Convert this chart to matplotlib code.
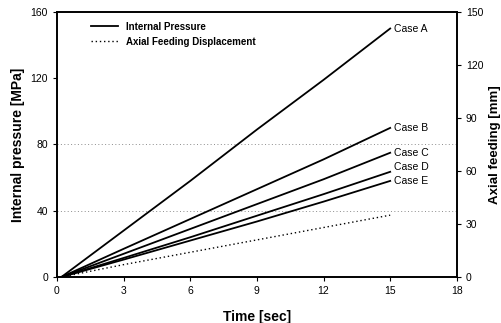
import matplotlib
matplotlib.use('Agg')
import matplotlib.pyplot as plt
from matplotlib.lines import Line2D

plt.rcParams['font.family'] = ['Liberation Sans', 'DejaVu Sans']

# ==== DATA ====
time = [0.2, 3, 6, 9, 12, 15]
case_a = [0, 28, 58, 89, 119, 150]
case_b = [0, 17, 35, 53, 71, 90]
case_c = [0, 14, 29, 44, 59, 75]
case_d = [0, 11.5, 24, 37, 50, 63.5]
case_e = [0, 10.5, 22, 33.5, 45.5, 58]
feed_time = [0.2, 3, 6, 9, 12, 15]
feed = [0, 7, 14, 21, 28, 35]

cases = {'Case A': case_a, 'Case B': case_b, 'Case C': case_c,
         'Case D': case_d, 'Case E': case_e}
label_shift = {'Case A': 0, 'Case B': 0, 'Case C': 0, 'Case D': 3, 'Case E': 0}

# ==== PLOT ====
fig = plt.figure(figsize=(5.02, 3.23), dpi=100)
ax1 = fig.add_axes([0.1135, 0.1424, 0.7965, 0.8206])
ax2 = ax1.twinx()

for y in [40, 80]:
  ax1.axhline(y, color='0.55', linestyle=(0, (1, 2.5)), linewidth=0.7)

for name, vals in cases.items():
  ax1.plot(time, vals, color='k', linewidth=1.3)
  ax1.text(15.15, vals[-1] + label_shift[name], name, fontsize=7.5, va='center', ha='left')

ax2.plot(feed_time, feed, color='k', linestyle=(0, (1, 2)), linewidth=1.0)

ax1.set_xlim(0, 18)
ax1.set_ylim(0, 160)
ax2.set_ylim(0, 150)
ax1.set_xticks(range(0, 19, 3))
ax1.set_yticks(range(0, 161, 40))
ax2.set_yticks(range(0, 151, 30))

ax1.set_xlabel('Time [sec]', fontsize=10, fontweight='bold', labelpad=10)
ax1.set_ylabel('Internal pressure [MPa]', fontsize=10, fontweight='bold', labelpad=4)
ax2.set_ylabel('Axial feeding [mm]', fontsize=9.5, fontweight='bold', labelpad=4)

for ax in (ax1, ax2):
  ax.tick_params(labelsize=7.5, direction='out', length=3, width=0.8)
  for s in ax.spines.values():
    s.set_linewidth(1.2)

legend_elements = [Line2D([0], [0], linestyle='-', color='k', linewidth=1.3, label='Internal Pressure'),
                   Line2D([0], [0], linestyle=(0, (1, 2)), color='k', linewidth=1.0,
                          label='Axial Feeding Displacement')]
ax1.legend(handles=legend_elements, loc='upper left', frameon=False,
           prop={'size': 7, 'weight': 'bold'}, handlelength=2.8, borderaxespad=0.6,
           bbox_to_anchor=(0.06, 1.0))

fig.savefig('out.png', dpi=100)
